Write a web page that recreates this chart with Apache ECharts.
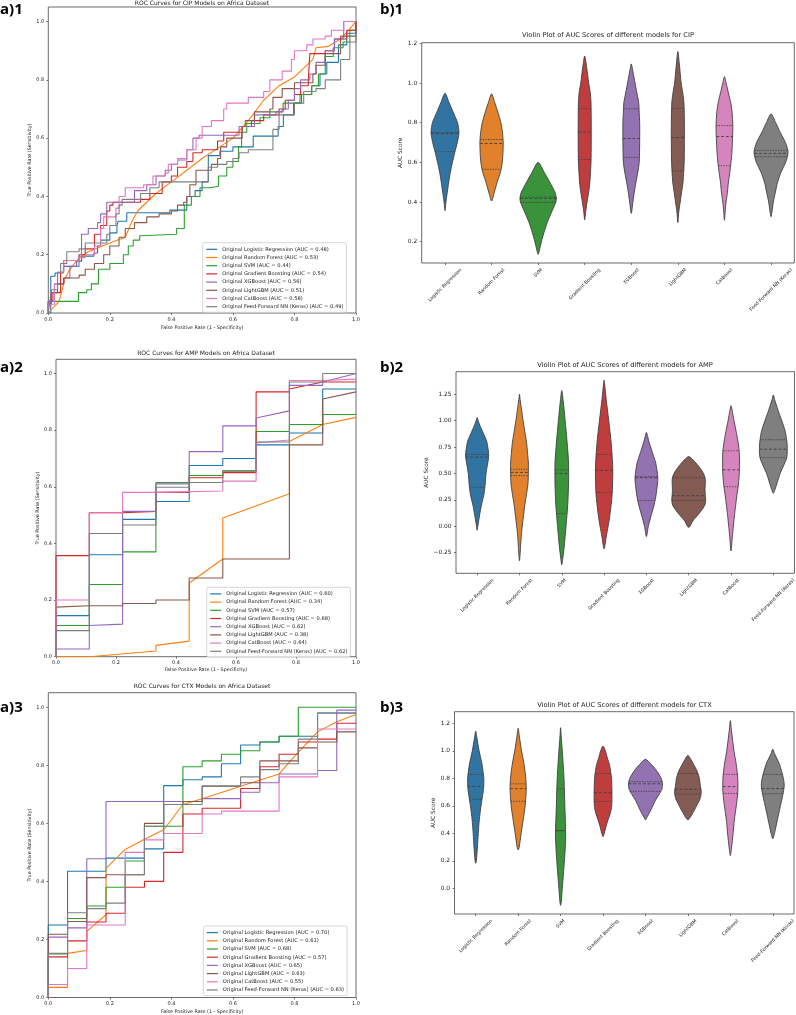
<!DOCTYPE html>
<html><head><meta charset="utf-8">
<script src="https://cdn.jsdelivr.net/npm/echarts@6/dist/echarts.min.js"></script>
<style>html,body{margin:0;padding:0;background:#fff}#c{width:796px;height:1015px}</style>
</head><body><div id="c"></div>
<script>
// ---------------- DATA ----------------
const rocModels = ['Logistic Regression','Random Forest','SVM','Gradient Boosting','XGBoost','LightGBM','CatBoost','Feed-Forward NN (Keras)'];
const violinModels = ['Logistic Regression','Random Forest','SVM','Gradient Boosting','XGBoost','LightGBM','CatBoost','Feed-Forward NN (Keras)'];
const cipAuc = [0.48,0.53,0.44,0.54,0.56,0.51,0.58,0.49];
const ampAuc = [0.60,0.34,0.57,0.68,0.62,0.38,0.64,0.62];
const ctxAuc = [0.70,0.61,0.68,0.57,0.65,0.63,0.55,0.63];

// CIP ROC curves (step points: [fpr where tpr jumps, new tpr]); RF is a plain polyline
const cipLR = [[0,0],[0.008,0.126],[0.022,0.137],[0.049,0.16],[0.092,0.178],[0.108,0.195],[0.148,0.206],[0.16,0.23],[0.17,0.25],[0.2,0.275],[0.223,0.3],[0.227,0.315],[0.255,0.344],[0.395,0.353],[0.45,0.4],[0.477,0.42],[0.5,0.45],[0.52,0.54],[0.558,0.555],[0.6,0.57],[0.666,0.607],[0.747,0.64],[0.764,0.68],[0.797,0.72],[0.823,0.75],[0.856,0.78],[0.883,0.82],[0.905,0.86],[0.943,0.92],[0.97,0.96],[1,1]];
const cipRF = [[0,0],[0.035,0.04],[0.055,0.12],[0.07,0.15],[0.1,0.19],[0.13,0.21],[0.2,0.24],[0.25,0.26],[0.27,0.31],[0.29,0.35],[0.35,0.41],[0.4,0.45],[0.45,0.49],[0.5,0.53],[0.55,0.565],[0.6,0.6],[0.65,0.66],[0.7,0.73],[0.75,0.78],[0.8,0.81],[0.86,0.87],[0.87,0.91],[0.91,0.915],[0.95,0.94],[1,1]];
const cipSVM = [[0,0],[0,0.04],[0.098,0.07],[0.125,0.08],[0.14,0.1],[0.163,0.15],[0.2,0.17],[0.244,0.2],[0.26,0.23],[0.276,0.25],[0.297,0.265],[0.3,0.27],[0.417,0.29],[0.442,0.37],[0.465,0.4],[0.493,0.43],[0.525,0.435],[0.553,0.47],[0.58,0.5],[0.6,0.52],[0.618,0.57],[0.628,0.62],[0.645,0.65],[0.688,0.67],[0.72,0.69],[0.763,0.72],[0.818,0.75],[0.856,0.78],[0.878,0.82],[0.9,0.88],[0.926,0.91],[0.958,0.93],[0.98,0.97],[1,0.98]];
const cipGB = [[0,0],[0,0.04],[0.015,0.07],[0.04,0.14],[0.05,0.18],[0.1,0.2],[0.12,0.22],[0.15,0.27],[0.17,0.3],[0.19,0.35],[0.2,0.37],[0.21,0.38],[0.3,0.39],[0.33,0.41],[0.37,0.45],[0.4,0.47],[0.42,0.5],[0.45,0.52],[0.47,0.55],[0.5,0.56],[0.55,0.59],[0.57,0.62],[0.63,0.64],[0.66,0.66],[0.7,0.68],[0.75,0.7],[0.77,0.73],[0.8,0.75],[0.82,0.78],[0.845,0.8],[0.85,0.89],[0.9,0.9],[0.93,0.94],[0.97,0.97],[1,1]];
const cipXGB = [[0,0],[0,0.04],[0.02,0.1],[0.05,0.12],[0.07,0.16],[0.1,0.2],[0.108,0.27],[0.13,0.29],[0.16,0.31],[0.17,0.34],[0.19,0.38],[0.26,0.38],[0.28,0.42],[0.32,0.44],[0.35,0.47],[0.38,0.49],[0.4,0.51],[0.42,0.525],[0.45,0.56],[0.47,0.6],[0.49,0.61],[0.62,0.64],[0.67,0.68],[0.74,0.69],[0.76,0.7],[0.78,0.73],[0.8,0.77],[0.82,0.8],[0.85,0.82],[0.87,0.86],[0.9,0.9],[0.93,0.94],[0.96,1],[1,1]];
const cipLGBM = [[0,0],[0,0.03],[0.01,0.07],[0.03,0.1],[0.05,0.12],[0.1,0.13],[0.12,0.15],[0.15,0.17],[0.18,0.2],[0.2,0.23],[0.23,0.26],[0.25,0.29],[0.28,0.31],[0.32,0.33],[0.36,0.34],[0.4,0.35],[0.42,0.37],[0.44,0.38],[0.45,0.4],[0.46,0.44],[0.48,0.49],[0.53,0.51],[0.55,0.53],[0.56,0.57],[0.58,0.6],[0.63,0.64],[0.64,0.66],[0.67,0.69],[0.72,0.7],[0.73,0.74],[0.76,0.77],[0.8,0.79],[0.86,0.82],[0.87,0.85],[0.9,0.89],[0.95,0.95],[1,1]];
const cipCat = [[0,0],[0,0.03],[0.02,0.1],[0.03,0.14],[0.05,0.18],[0.1,0.19],[0.12,0.2],[0.15,0.23],[0.17,0.29],[0.18,0.33],[0.22,0.36],[0.23,0.4],[0.25,0.43],[0.31,0.44],[0.34,0.47],[0.38,0.48],[0.39,0.51],[0.42,0.53],[0.45,0.56],[0.48,0.6],[0.5,0.64],[0.53,0.66],[0.57,0.7],[0.58,0.72],[0.65,0.74],[0.7,0.76],[0.72,0.8],[0.76,0.83],[0.79,0.87],[0.8,0.9],[0.84,0.92],[0.86,0.94],[0.9,0.95],[0.92,0.97],[0.96,1],[1,1]];
const cipNN = [[0,0],[0.005,0.04],[0.01,0.08],[0.03,0.14],[0.04,0.17],[0.06,0.21],[0.1,0.22],[0.12,0.24],[0.19,0.27],[0.2,0.3],[0.22,0.34],[0.23,0.37],[0.24,0.39],[0.3,0.41],[0.33,0.43],[0.36,0.45],[0.52,0.5],[0.55,0.51],[0.58,0.52],[0.6,0.53],[0.62,0.55],[0.65,0.56],[0.73,0.63],[0.75,0.68],[0.8,0.72],[0.83,0.76],[0.87,0.77],[0.9,0.8],[0.95,0.87],[0.98,0.93],[1,0.96]];

// AMP ROC curves (polyline vertices)
const ampLR = [[0,0],[0,0.145],[0.111,0.145],[0.111,0.36],[0.222,0.36],[0.222,0.485],[0.333,0.485],[0.333,0.548],[0.444,0.548],[0.444,0.675],[0.556,0.675],[0.556,0.7],[0.667,0.7],[0.667,0.748],[0.778,0.748],[0.778,0.79],[0.889,0.79],[0.889,0.945],[1,0.945]];
const ampRF = [[0,0],[0.111,0],[0.333,0.02],[0.333,0.04],[0.444,0.055],[0.444,0.26],[0.556,0.345],[0.556,0.49],[0.778,0.575],[0.778,0.76],[0.889,0.82],[1,0.845]];
const ampSVM = [[0,0],[0,0.11],[0.111,0.11],[0.111,0.255],[0.222,0.255],[0.222,0.37],[0.333,0.37],[0.333,0.615],[0.444,0.615],[0.444,0.64],[0.556,0.64],[0.556,0.655],[0.667,0.655],[0.667,0.795],[0.778,0.795],[0.778,0.82],[0.889,0.82],[0.889,0.855],[1,0.855]];
const ampGB = [[0,0],[0,0.357],[0.111,0.357],[0.111,0.508],[0.222,0.508],[0.222,0.51],[0.333,0.513],[0.333,0.58],[0.444,0.58],[0.444,0.632],[0.556,0.632],[0.556,0.65],[0.667,0.65],[0.667,0.935],[0.778,0.935],[0.778,0.945],[0.889,0.97],[1,0.97]];
const ampXGB = [[0,0],[0,0.027],[0.111,0.027],[0.111,0.11],[0.222,0.115],[0.222,0.513],[0.333,0.513],[0.333,0.61],[0.444,0.61],[0.444,0.724],[0.556,0.724],[0.556,0.815],[0.667,0.815],[0.667,0.843],[0.778,0.868],[0.778,0.958],[0.889,0.958],[0.889,0.97],[1,1]];
const ampLGBM = [[0,0],[0,0.175],[0.111,0.18],[0.222,0.18],[0.222,0.188],[0.333,0.188],[0.333,0.2],[0.444,0.2],[0.444,0.278],[0.556,0.278],[0.556,0.345],[0.778,0.345],[0.778,0.748],[0.889,0.748],[0.889,0.91],[1,0.935]];
const ampCat = [[0,0],[0,0.2],[0.111,0.2],[0.111,0.508],[0.222,0.508],[0.222,0.58],[0.333,0.58],[0.333,0.585],[0.556,0.585],[0.556,0.62],[0.667,0.62],[0.667,0.755],[0.778,0.765],[0.778,0.975],[0.889,0.975],[0.889,0.98],[1,0.98]];
const ampNN = [[0,0],[0,0.092],[0.111,0.092],[0.111,0.435],[0.222,0.435],[0.222,0.465],[0.333,0.465],[0.333,0.598],[0.444,0.598],[0.444,0.615],[0.556,0.615],[0.556,0.657],[0.667,0.657],[0.667,0.758],[0.778,0.758],[0.778,0.97],[0.889,0.97],[0.889,1],[1,1]];

// CTX ROC curves (step points, RF as polyline)
const ctxLR = [[0,0],[0,0.25],[0.0625,0.435],[0.1875,0.48],[0.3125,0.512],[0.375,0.73],[0.4375,0.75],[0.5,0.76],[0.5625,0.805],[0.625,0.87],[0.6875,0.88],[0.75,0.9],[0.875,0.98],[1,0.98]];
const ctxRF = [[0,0],[0,0.035],[0.0625,0.035],[0.0625,0.152],[0.125,0.162],[0.125,0.228],[0.1875,0.285],[0.1875,0.445],[0.25,0.51],[0.3125,0.545],[0.375,0.578],[0.4375,0.665],[0.5,0.685],[0.625,0.728],[0.75,0.77],[0.8125,0.845],[0.875,0.915],[0.9375,0.95],[1,0.975]];
const ctxSVM = [[0,0],[0,0.15],[0.0625,0.272],[0.125,0.315],[0.1875,0.38],[0.25,0.47],[0.3125,0.59],[0.4375,0.795],[0.5,0.815],[0.5625,0.838],[0.625,0.85],[0.6875,0.88],[0.75,0.9],[0.8125,1],[1,1]];
const ctxGB = [[0,0],[0,0.14],[0.0625,0.195],[0.125,0.26],[0.1875,0.29],[0.25,0.38],[0.3125,0.4],[0.375,0.5],[0.4375,0.632],[0.5,0.652],[0.625,0.72],[0.6875,0.795],[0.75,0.838],[0.8125,0.88],[0.875,0.89],[0.9375,0.945],[1,0.945]];
const ctxXGB = [[0,0],[0,0.208],[0.0625,0.24],[0.125,0.478],[0.1875,0.675],[0.5,0.685],[0.625,0.707],[0.6875,0.74],[0.75,0.77],[0.875,0.782],[0.9375,0.99],[1,0.99]];
const ctxLGBM = [[0,0],[0,0.218],[0.0625,0.262],[0.125,0.413],[0.1875,0.423],[0.3125,0.6],[0.375,0.665],[0.4375,0.675],[0.5,0.728],[0.625,0.74],[0.6875,0.815],[0.8125,0.86],[0.875,0.88],[0.9375,0.915],[1,0.915]];
const ctxCat = [[0,0],[0,0.045],[0.0625,0.1],[0.125,0.25],[0.25,0.5],[0.3125,0.543],[0.375,0.565],[0.5,0.632],[0.5625,0.642],[0.75,0.76],[0.875,0.925],[1,0.925]];
const ctxNN = [[0,0],[0,0.152],[0.0625,0.292],[0.125,0.306],[0.1875,0.325],[0.25,0.423],[0.3125,0.59],[0.375,0.665],[0.5,0.728],[0.625,0.76],[0.6875,0.785],[0.75,0.805],[0.8125,0.89],[0.875,0.98],[1,0.98]];

// Violin outlines: [AUC score, half width as a fraction of the category band]
const cipViolins = [
 [[0.948,0],[0.9,0.09],[0.85,0.18],[0.8,0.27],[0.75,0.30],[0.7,0.265],[0.65,0.21],[0.6,0.16],[0.55,0.115],[0.5,0.08],[0.45,0.05],[0.4,0.02],[0.356,0]],
 [[0.945,0],[0.9,0.07],[0.85,0.14],[0.8,0.2],[0.75,0.235],[0.7,0.25],[0.65,0.245],[0.6,0.23],[0.55,0.19],[0.5,0.12],[0.45,0.06],[0.405,0]],
 [[0.6,0],[0.55,0.13],[0.5,0.25],[0.45,0.36],[0.42,0.39],[0.4,0.38],[0.35,0.29],[0.3,0.2],[0.25,0.13],[0.2,0.07],[0.15,0.02],[0.136,0]],
 [[1.136,0],[1.1,0.03],[1.0,0.085],[0.95,0.12],[0.9,0.135],[0.8,0.14],[0.7,0.14],[0.6,0.135],[0.5,0.11],[0.45,0.085],[0.4,0.05],[0.35,0.02],[0.31,0]],
 [[1.096,0],[1.05,0.04],[1.0,0.08],[0.95,0.12],[0.9,0.16],[0.85,0.17],[0.8,0.18],[0.7,0.18],[0.6,0.17],[0.55,0.14],[0.5,0.1],[0.45,0.065],[0.4,0.035],[0.343,0]],
 [[1.158,0],[1.1,0.03],[1.0,0.07],[0.95,0.105],[0.9,0.13],[0.8,0.14],[0.7,0.14],[0.6,0.135],[0.5,0.11],[0.45,0.08],[0.4,0.05],[0.35,0.02],[0.296,0]],
 [[1.032,0],[1.0,0.035],[0.95,0.085],[0.9,0.135],[0.85,0.165],[0.78,0.18],[0.7,0.17],[0.65,0.16],[0.6,0.14],[0.55,0.115],[0.5,0.085],[0.45,0.065],[0.4,0.035],[0.35,0.015],[0.308,0]],
 [[0.844,0],[0.8,0.1],[0.75,0.2],[0.7,0.31],[0.65,0.365],[0.6,0.315],[0.55,0.215],[0.5,0.14],[0.45,0.095],[0.4,0.05],[0.35,0.02],[0.326,0]]
];
const cipQuartiles = [[0.654,0.745,0.75],[0.565,0.695,0.715],[0.398,0.418,0.425],[0.614,0.752,0.87],[0.625,0.72,0.87],[0.557,0.725,0.872],[0.583,0.73,0.785],[0.628,0.645,0.66]];

const ampViolins = [
 [[1.03,0],[1.0,0.024],[0.95,0.07],[0.9,0.125],[0.85,0.18],[0.8,0.23],[0.75,0.25],[0.7,0.27],[0.65,0.27],[0.6,0.25],[0.5,0.21],[0.4,0.19],[0.3,0.16],[0.25,0.13],[0.2,0.1],[0.1,0.055],[0.0,0.015],[-0.038,0]],
 [[1.25,0],[1.2,0.015],[1.1,0.05],[1.0,0.085],[0.9,0.125],[0.8,0.165],[0.7,0.19],[0.6,0.21],[0.5,0.21],[0.4,0.2],[0.3,0.165],[0.2,0.125],[0.1,0.095],[0.0,0.065],[-0.1,0.04],[-0.2,0.025],[-0.326,0]],
 [[1.285,0],[1.2,0.03],[1.0,0.08],[0.8,0.125],[0.6,0.16],[0.4,0.16],[0.2,0.14],[0.0,0.1],[-0.2,0.055],[-0.3,0.025],[-0.364,0]],
 [[1.383,0],[1.3,0.025],[1.2,0.05],[1.0,0.11],[0.8,0.165],[0.6,0.2],[0.5,0.205],[0.3,0.19],[0.1,0.135],[0.0,0.095],[-0.1,0.05],[-0.215,0]],
 [[0.889,0],[0.85,0.03],[0.8,0.06],[0.7,0.14],[0.6,0.22],[0.5,0.26],[0.45,0.27],[0.4,0.26],[0.3,0.23],[0.2,0.18],[0.1,0.11],[0.0,0.045],[-0.098,0]],
 [[0.661,0],[0.65,0.05],[0.6,0.17],[0.55,0.27],[0.5,0.35],[0.45,0.39],[0.4,0.39],[0.35,0.385],[0.3,0.39],[0.25,0.4],[0.2,0.38],[0.15,0.3],[0.1,0.2],[0.05,0.095],[0.0,0.03],[-0.01,0]],
 [[1.142,0],[1.1,0.025],[1.0,0.07],[0.9,0.12],[0.8,0.165],[0.7,0.195],[0.6,0.2],[0.5,0.195],[0.4,0.175],[0.3,0.14],[0.2,0.11],[0.1,0.08],[0.0,0.055],[-0.1,0.03],[-0.234,0]],
 [[1.244,0],[1.2,0.03],[1.1,0.11],[1.0,0.2],[0.9,0.28],[0.8,0.32],[0.72,0.33],[0.65,0.315],[0.6,0.27],[0.5,0.16],[0.4,0.08],[0.35,0.04],[0.313,0]]
];
const ampQuartiles = [[0.37,0.655,0.68],[0.48,0.51,0.54],[0.12,0.5,0.535],[0.32,0.53,0.68],[0.245,0.46,0.47],[0.245,0.29,0.46],[0.375,0.535,0.715],[0.65,0.73,0.82]];

const ctxViolins = [
 [[1.144,0],[1.1,0.025],[1.0,0.08],[0.9,0.15],[0.8,0.19],[0.75,0.19],[0.7,0.175],[0.6,0.125],[0.5,0.085],[0.4,0.06],[0.3,0.04],[0.2,0.015],[0.182,0]],
 [[1.164,0],[1.1,0.03],[1.0,0.08],[0.9,0.14],[0.8,0.18],[0.72,0.19],[0.6,0.165],[0.5,0.12],[0.4,0.07],[0.3,0.025],[0.279,0]],
 [[1.168,0],[1.1,0.015],[1.0,0.04],[0.8,0.08],[0.6,0.1],[0.4,0.12],[0.3,0.11],[0.2,0.09],[0.1,0.065],[0.0,0.04],[-0.1,0.015],[-0.124,0]],
 [[1.035,0],[1.0,0.055],[0.95,0.1],[0.9,0.15],[0.85,0.18],[0.8,0.2],[0.7,0.21],[0.6,0.205],[0.55,0.175],[0.5,0.12],[0.45,0.07],[0.4,0.03],[0.376,0]],
 [[0.938,0],[0.9,0.14],[0.85,0.275],[0.8,0.37],[0.76,0.4],[0.72,0.385],[0.68,0.315],[0.64,0.235],[0.6,0.175],[0.55,0.095],[0.52,0.04],[0.497,0]],
 [[0.967,0],[0.95,0.045],[0.9,0.135],[0.85,0.22],[0.8,0.27],[0.75,0.29],[0.7,0.315],[0.65,0.285],[0.6,0.205],[0.55,0.12],[0.51,0.04],[0.497,0]],
 [[1.219,0],[1.15,0.025],[1.0,0.085],[0.9,0.14],[0.8,0.175],[0.7,0.175],[0.6,0.14],[0.5,0.095],[0.4,0.065],[0.3,0.03],[0.238,0]],
 [[1.011,0],[0.98,0.04],[0.9,0.16],[0.8,0.25],[0.75,0.27],[0.7,0.25],[0.6,0.18],[0.5,0.11],[0.4,0.04],[0.361,0]]
];
const ctxQuartiles = [[0.648,0.74,0.828],[0.633,0.725,0.76],[0.418,0.42,0.725],[0.632,0.695,0.835],[0.705,0.76,0.775],[0.685,0.72,0.835],[0.69,0.74,0.828],[0.688,0.725,0.828]];

const rocTicks = [0,0.2,0.4,0.6,0.8,1.0];
const cipTicks = [0.2,0.4,0.6,0.8,1.0,1.2];
const ampTicks = [-0.25,0,0.25,0.5,0.75,1.0,1.25];
const ctxTicks = [0,0.2,0.4,0.6,0.8,1.0,1.2];

// ---------------- STYLE ----------------
const FONT = 'DejaVu Sans';
const TXT = '#222';
const lineColors = ['#1f77b4','#ff7f0e','#2ca02c','#d62728','#9467bd','#8c564b','#e377c2','#7f7f7f'];
const fillColors = ['#3274a1','#e1812c','#3a923a','#c03d3e','#9372b2','#845b53','#d684bd','#7f7f7f'];
const EDGE = '#3f3f3f';

const mctx = document.createElement('canvas').getContext('2d');
function textW(t, size){ mctx.font = size + 'px "' + FONT + '"'; return mctx.measureText(t).width; }

const gridBox = [
  {left:48.3, top:7,     width:307.7, height:306},
  {left:56,   top:359.3, width:300,   height:297.4},
  {left:48.3, top:692.7, width:307.7, height:305},
  {left:421.7,top:42.7,  width:372.6, height:220.3},
  {left:456,  top:371.7, width:338.5, height:201.6},
  {left:454.5,top:711.7, width:339.5, height:202.3}
];
const grids = gridBox.map(g => Object.assign({show:true, borderColor:'#444', borderWidth:0.8, containLabel:false}, g));

const tickStyle = {color:'#444', width:0.7};
function rocXAxis(gi, gap){
  return {type:'value', gridIndex:gi, min:0, max:1,
    axisLine:{show:false, onZero:false}, splitLine:{show:false},
    axisTick:{show:true, length:2, customValues:rocTicks, lineStyle:tickStyle},
    axisLabel:{customValues:rocTicks, formatter:v=>v.toFixed(1), fontSize:5, fontFamily:FONT, color:TXT, margin:4},
    name:'False Positive Rate (1 - Specificity)', nameLocation:'middle', nameGap:gap,
    nameTextStyle:{fontSize:4.8, fontFamily:FONT, color:TXT}};
}
function rocYAxis(gi, gap){
  return {type:'value', gridIndex:gi, min:0, max:1.05,
    axisLine:{show:false, onZero:false}, splitLine:{show:false},
    axisTick:{show:true, length:2, customValues:rocTicks, lineStyle:tickStyle},
    axisLabel:{customValues:rocTicks, formatter:v=>v.toFixed(1), fontSize:5, fontFamily:FONT, color:TXT, margin:4},
    name:'True Positive Rate (Sensitivity)', nameLocation:'middle', nameRotate:90, nameGap:gap,
    nameTextStyle:{fontSize:4.8, fontFamily:FONT, color:TXT}};
}
function vioXAxis(gi){
  return {type:'category', gridIndex:gi, data:violinModels, boundaryGap:true,
    axisLine:{show:false, onZero:false}, splitLine:{show:false},
    axisTick:{show:true, alignWithLabel:true, length:2, interval:0, lineStyle:tickStyle},
    axisLabel:{show:false}};
}
function vioYAxis(gi, min, max, ticks, fmt, gap){
  return {type:'value', gridIndex:gi, min:min, max:max,
    axisLine:{show:false, onZero:false}, splitLine:{show:false},
    axisTick:{show:true, length:2, customValues:ticks, lineStyle:tickStyle},
    axisLabel:{customValues:ticks, formatter:fmt, fontSize:5.9, fontFamily:FONT, color:TXT, margin:4.5},
    name:'AUC Score', nameLocation:'middle', nameRotate:90, nameGap:gap,
    nameTextStyle:{fontSize:5.8, fontFamily:FONT, color:TXT}};
}

function rocSeries(gi, curves, aucs, stepped){
  return curves.map((d, m) => ({
    type:'line', xAxisIndex:gi, yAxisIndex:gi,
    name:'Original ' + rocModels[m] + ' (AUC = ' + aucs[m].toFixed(2) + ')',
    data:d, step: stepped[m] ? 'end' : false, symbol:'none', showSymbol:false,
    lineStyle:{width:1.1, color:lineColors[m]}, itemStyle:{color:lineColors[m]},
    animation:false, silent:true
  }));
}

function widthAt(prof, y){
  for (let k = 0; k < prof.length - 1; k++){
    const a = prof[k], b = prof[k+1];
    if (y <= a[0] && y >= b[0]){
      const t = (a[0] - y) / (a[0] - b[0] || 1);
      return a[1] + t * (b[1] - a[1]);
    }
  }
  return 0;
}

function violinSeries(gi, profiles, quartiles, yMin){
  const LBL = 4.7;
  return {
    type:'custom', xAxisIndex:gi, yAxisIndex:gi, animation:false, silent:true, clip:false,
    data: violinModels.map((_, i) => [i, quartiles[i][1]]),
    encode:{x:0, y:1},
    renderItem: function(params, api){
      const i = api.value(0);
      const base = api.coord([i, yMin]);
      const cx = base[0];
      const band = api.size([1, 0])[0];
      const prof = profiles[i];
      const pts = [];
      prof.forEach(p => pts.push([cx + p[1]*band, api.coord([i, p[0]])[1]]));
      for (let k = prof.length - 2; k >= 1; k--) pts.push([cx - prof[k][1]*band, api.coord([i, prof[k][0]])[1]]);
      const children = [{
        type:'polygon', shape:{points:pts, smooth:0.25},
        style:{fill:fillColors[i], stroke:EDGE, lineWidth:0.9}
      }];
      quartiles[i].forEach((q, k) => {
        const w = widthAt(prof, q) * band;
        const y = api.coord([i, q])[1];
        children.push({type:'line', shape:{x1:cx - w, y1:y, x2:cx + w, y2:y},
          style:{stroke:EDGE, lineWidth:0.9, lineDash: k === 1 ? [2.8, 2] : [1.3, 1.3]}});
      });
      const L = textW(violinModels[i], LBL);
      children.push({type:'text', x: cx + 0.354*L, y: base[1] + 4.5 + 0.354*LBL, rotation: Math.PI/4,
        style:{text:violinModels[i], fontSize:LBL, fontFamily:FONT, fill:TXT, align:'right', verticalAlign:'middle'}});
      return {type:'group', children:children};
    }
  };
}

function legendFor(left, top, aucs){
  return {orient:'vertical', left:left, top:top, selectedMode:false,
    data: rocModels.map((m, k) => 'Original ' + m + ' (AUC = ' + aucs[k].toFixed(2) + ')'),
    icon:'rect', itemWidth:11, itemHeight:1.2, itemGap:0, padding:[2.5,3,1.5,3.5],
    backgroundColor:'rgba(255,255,255,0.85)', borderColor:'#ccc', borderWidth:0.8, borderRadius:2,
    textStyle:{fontSize:5.15, fontFamily:FONT, color:TXT, lineHeight:8.2}};
}

function txt(x, y, s, size, opts){
  return {type:'text', x:x, y:y, silent:true,
    style:Object.assign({text:s, fontSize:size, fontFamily:FONT, fill:TXT, align:'center', verticalAlign:'middle'}, opts||{})};
}
const panelFont = {fontFamily:'Open Sans', fontWeight:'bold', fill:'#000', align:'left'};

const option = {
  backgroundColor:'#fff',
  animation:false,
  grid: grids,
  xAxis: [rocXAxis(0, 12.5), rocXAxis(1, 10.8), rocXAxis(2, 11.5), vioXAxis(3), vioXAxis(4), vioXAxis(5)],
  yAxis: [rocYAxis(0, 15.8), rocYAxis(1, 15.2), rocYAxis(2, 15.8),
    vioYAxis(3, 0.0926, 1.203, cipTicks, v => v.toFixed(1), 17.2),
    vioYAxis(4, -0.445, 1.464, ampTicks, v => (v < 0 ? '\u2212' : '') + Math.abs(v).toFixed(2), 26.3),
    vioYAxis(5, -0.187, 1.2845, ctxTicks, v => v.toFixed(1), 17.5)],
  legend: [legendFor(202.7, 242.7, cipAuc), legendFor(206.7, 587.3, ampAuc), legendFor(203.3, 926, ctxAuc)],
  graphic: [
    txt(202, 3, 'ROC Curves for CIP Models on Africa Dataset', 6),
    txt(206, 353.3, 'ROC Curves for AMP Models on Africa Dataset', 6),
    txt(202, 686.7, 'ROC Curves for CTX Models on Africa Dataset', 6),
    txt(608, 35, 'Violin Plot of AUC Scores of different models for CIP', 6.7),
    txt(625, 365.7, 'Violin Plot of AUC Scores of different models for AMP', 6.7),
    txt(624.5, 705.7, 'Violin Plot of AUC Scores of different models for CTX', 6.7),
    txt(0, 10, 'a)1', 15, panelFont),
    txt(380, 10, 'b)1', 15, panelFont),
    txt(0, 368, 'a)2', 15, panelFont),
    txt(380, 368, 'b)2', 15, panelFont),
    txt(0, 708, 'a)3', 15, panelFont),
    txt(380, 708, 'b)3', 15, panelFont)
  ],
  series: [].concat(
    rocSeries(0, [cipLR, cipRF, cipSVM, cipGB, cipXGB, cipLGBM, cipCat, cipNN], cipAuc, [1,0,1,1,1,1,1,1]),
    rocSeries(1, [ampLR, ampRF, ampSVM, ampGB, ampXGB, ampLGBM, ampCat, ampNN], ampAuc, [0,0,0,0,0,0,0,0]),
    rocSeries(2, [ctxLR, ctxRF, ctxSVM, ctxGB, ctxXGB, ctxLGBM, ctxCat, ctxNN], ctxAuc, [1,0,1,1,1,1,1,1]),
    [violinSeries(3, cipViolins, cipQuartiles, 0.0926),
     violinSeries(4, ampViolins, ampQuartiles, -0.445),
     violinSeries(5, ctxViolins, ctxQuartiles, -0.187)]
  )
};

const chart = echarts.init(document.getElementById('c'), null, {renderer:'canvas', width:796, height:1015});
chart.setOption(option);
</script></body></html>
